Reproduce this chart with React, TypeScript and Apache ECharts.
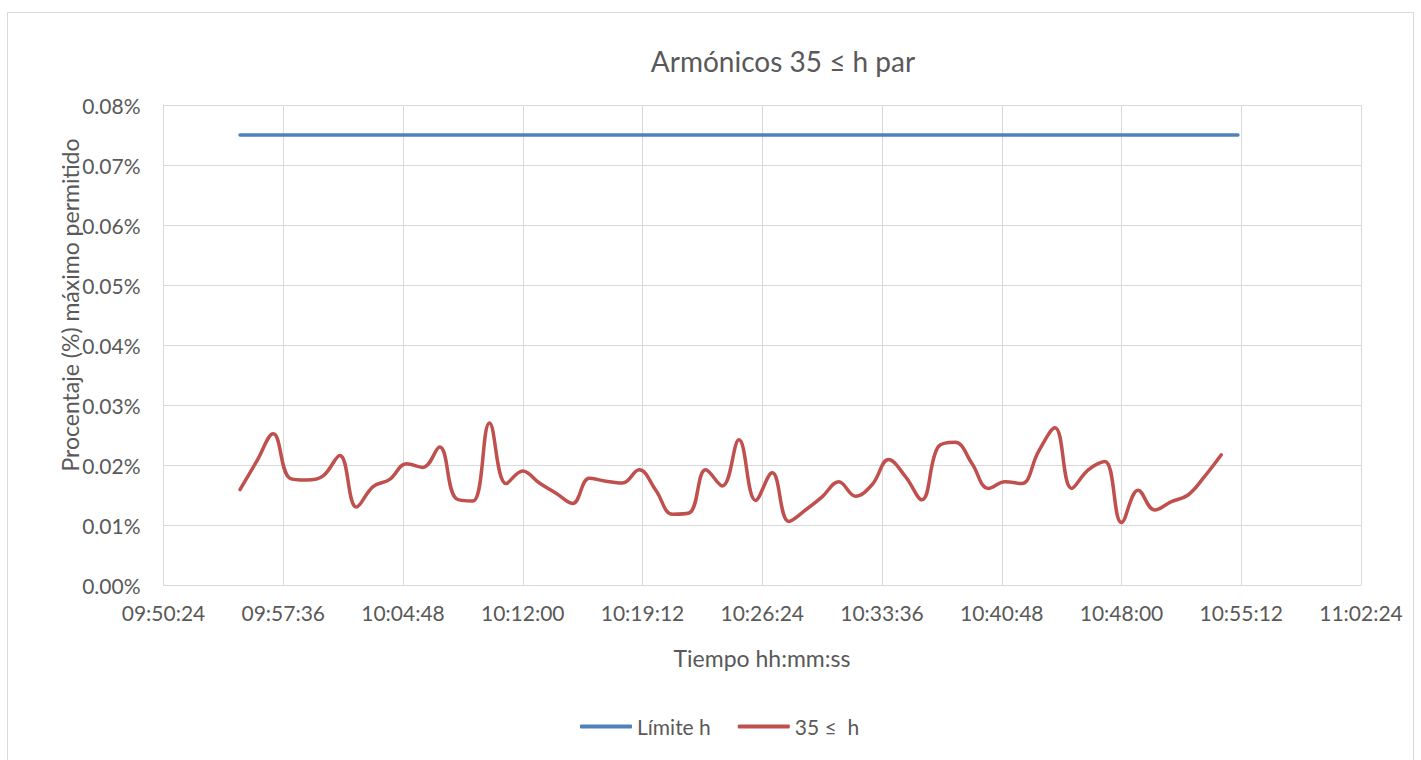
import React, { useEffect, useRef } from "react";
import * as echarts from "echarts";

const times: string[] = [
  "09:55:00", "09:56:00", "09:57:00", "09:58:00", "09:59:00", "10:00:00", "10:01:00", "10:02:00", "10:03:00", "10:04:00",
  "10:05:00", "10:06:00", "10:07:00", "10:08:00", "10:09:00", "10:10:00", "10:11:00", "10:12:00", "10:13:00", "10:14:00",
  "10:15:00", "10:16:00", "10:17:00", "10:18:00", "10:19:00", "10:20:00", "10:21:00", "10:22:00", "10:23:00", "10:24:00",
  "10:25:00", "10:26:00", "10:27:00", "10:28:00", "10:29:00", "10:30:00", "10:31:00", "10:32:00", "10:33:00", "10:34:00",
  "10:35:00", "10:36:00", "10:37:00", "10:38:00", "10:39:00", "10:40:00", "10:41:00", "10:42:00", "10:43:00", "10:44:00",
  "10:45:00", "10:46:00", "10:47:00", "10:48:00", "10:49:00", "10:50:00", "10:51:00", "10:52:00", "10:53:00", "10:54:00",
];

// values in percent
const harmonic35: number[] = [
  0.0159, 0.0206, 0.0252, 0.0178, 0.0175, 0.0182, 0.0216, 0.0130, 0.0164, 0.0176,
  0.0202, 0.0196, 0.0230, 0.0144, 0.0140, 0.0270, 0.0169, 0.0190, 0.0170, 0.0153,
  0.0136, 0.0178, 0.0173, 0.0170, 0.0192, 0.0158, 0.0118, 0.0120, 0.0192, 0.0165,
  0.0242, 0.0141, 0.0187, 0.0106, 0.0125, 0.0147, 0.0172, 0.0148, 0.0167, 0.0209,
  0.0181, 0.0142, 0.0231, 0.0238, 0.0203, 0.0161, 0.0172, 0.0169, 0.0222, 0.0262,
  0.0161, 0.0192, 0.0206, 0.0104, 0.0158, 0.0125, 0.0139, 0.0150, 0.0181, 0.0217,
];

const limitTimes: string[] = ["09:55:00", "10:55:00"];
const limitValues: number[] = [0.075, 0.075];

const xMin = "09:50:24";
const xMax = "11:02:24";
const xStepSeconds = 432;

const yTicks: number[] = [0, 0.01, 0.02, 0.03, 0.04, 0.05, 0.06, 0.07, 0.08];

const toSec = (t: string) => {
  const [h, m, s] = t.split(":").map(Number);
  return h * 3600 + m * 60 + s;
};
const pad = (n: number) => (n < 10 ? "0" + n : "" + n);
const toHms = (v: number) => {
  const h = Math.floor(v / 3600);
  const m = Math.floor((v % 3600) / 60);
  const s = Math.round(v % 60);
  return `${pad(h)}:${pad(m)}:${pad(s)}`;
};

const FONT = "Lato, 'Noto Sans', sans-serif";
const TXT = "#595959";

export default function App() {
  const ref = useRef<HTMLDivElement>(null);

  useEffect(() => {
    if (!ref.current) return;
    const chart = echarts.init(ref.current, undefined, { renderer: "svg" });
    const option: any = {
      animation: false,
      backgroundColor: "#ffffff",
      title: {
        text: "Armónicos 35 ≤ h par",
        left: 775,
        top: 34,
        textAlign: "center",
        padding: 0,
        textStyle: { fontFamily: FONT, fontSize: 28, fontWeight: "normal", color: TXT },
      },
      legend: {
        left: 567,
        top: 698,
        itemWidth: 52,
        itemHeight: 4,
        itemGap: 27,
        icon: "roundRect",
        textStyle: { fontFamily: FONT, fontSize: 21, color: TXT },
        data: ["Límite h", "35 ≤  h"],
      },
      grid: { left: 155.5, top: 92, width: 1197.5, height: 480, containLabel: false },
      xAxis: {
        type: "value",
        min: toSec(xMin),
        max: toSec(xMax),
        interval: xStepSeconds,
        axisLine: { show: true, lineStyle: { color: "#d9d9d9", width: 1 } },
        axisTick: { show: false },
        splitLine: { show: true, lineStyle: { color: "#d9d9d9", width: 1 } },
        axisLabel: {
          formatter: (v: number) => toHms(v),
          fontFamily: FONT,
          fontSize: 21,
          color: TXT,
          margin: 17,
        },
      },
      yAxis: {
        type: "value",
        min: yTicks[0],
        max: yTicks[yTicks.length - 1],
        interval: 0.01,
        axisLine: { show: true, lineStyle: { color: "#d9d9d9", width: 1 } },
        axisTick: { show: false },
        splitLine: { show: true, lineStyle: { color: "#d9d9d9", width: 1 } },
        axisLabel: {
          formatter: (v: number) => v.toFixed(2) + "%",
          fontFamily: FONT,
          fontSize: 21,
          color: TXT,
          margin: 23,
        },
      },
      graphic: [
        {
          type: "text",
          x: 62,
          y: 292,
          rotation: Math.PI / 2,
          style: {
            text: "Procentaje (%) máximo permitido",
            fontFamily: FONT,
            fontSize: 23,
            fill: TXT,
            align: "center",
            verticalAlign: "middle",
          },
        },
        {
          type: "text",
          x: 754,
          y: 645,
          style: {
            text: "Tiempo hh:mm:ss",
            fontFamily: FONT,
            fontSize: 23,
            fill: TXT,
            align: "center",
            verticalAlign: "middle",
          },
        },
      ],
      series: [
        {
          name: "Límite h",
          type: "line",
          symbol: "none",
          data: limitTimes.map((t, i) => [toSec(t), limitValues[i]]),
          lineStyle: { color: "#4f81bd", width: 3.5, cap: "round" },
          itemStyle: { color: "#4f81bd" },
        },
        {
          name: "35 ≤  h",
          type: "line",
          symbol: "none",
          smooth: 0.4,
          data: times.map((t, i) => [toSec(t), harmonic35[i]]),
          lineStyle: { color: "#c0504d", width: 3.5, cap: "round", join: "round" },
          itemStyle: { color: "#c0504d" },
        },
      ],
    };
    chart.setOption(option);
    return () => chart.dispose();
  }, []);

  return (
    <div
      style={{
        position: "absolute",
        left: 7,
        top: 12,
        width: 1407,
        height: 748,
        border: "1px solid #d9d9d9",
        borderBottom: "none",
        boxSizing: "border-box",
        background: "#fff",
      }}
    >
      <div ref={ref} style={{ width: "100%", height: "100%" }} />
    </div>
  );
}
